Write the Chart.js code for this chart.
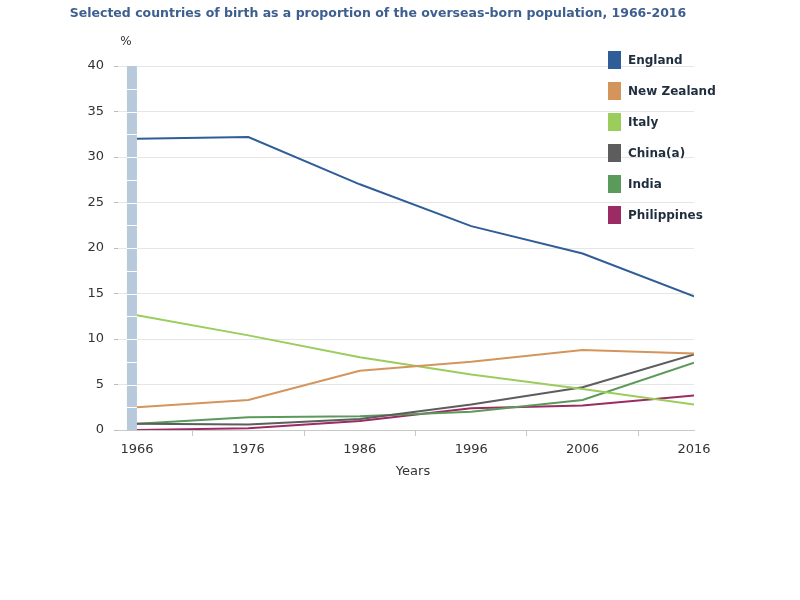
<!DOCTYPE html>
<html>
<head>
<meta charset="utf-8">
<script src="https://cdn.jsdelivr.net/npm/chart.js@4.4.1/dist/chart.umd.min.js"></script>
<style>
html,body{margin:0;padding:0;background:#fff;}
#wrap{width:800px;height:600px;}
</style>
</head>
<body>
<div id="wrap"><canvas id="c" width="800" height="600"></canvas></div>
<script>
const years = [1966, 1976, 1986, 1996, 2006, 2016];
const england     = [32.0, 32.2, 27.0, 22.4, 19.4, 14.7];
const newZealand  = [2.5, 3.3, 6.5, 7.5, 8.8, 8.4];
const italy       = [12.6, 10.4, 8.0, 6.1, 4.5, 2.8];
const china       = [0.7, 0.6, 1.2, 2.8, 4.7, 8.3];
const india       = [0.7, 1.4, 1.5, 2.0, 3.3, 7.4];
const philippines = [0.0, 0.2, 1.0, 2.4, 2.7, 3.8];
const seriesNames = ["England", "New Zealand", "Italy", "China(a)", "India", "Philippines"];
const seriesColors = ["#2f5d98", "#d4955c", "#9acd5b", "#5d5d5d", "#5a9a5a", "#9b2b62"];
const yTicks = [0, 5, 10, 15, 20, 25, 30, 35, 40];
const titleText = "Selected countries of birth as a proportion of the overseas-born population, 1966-2016";

const allSeries = [england, newZealand, italy, china, india, philippines];
const datasets = allSeries.map((vals, i) => ({
  label: seriesNames[i],
  data: years.map((y, j) => ({x: y, y: vals[j]})),
  borderColor: seriesColors[i],
  backgroundColor: seriesColors[i],
  borderWidth: 2,
  pointRadius: 0,
  tension: 0,
  fill: false
}));

const decor = {
  id: 'decor',
  beforeDatasetsDraw(chart) {
    const ctx = chart.ctx, xs = chart.scales.x, ys = chart.scales.y;
    const x0 = xs.getPixelForValue(years[0]);
    const top = ys.getPixelForValue(40), bot = ys.getPixelForValue(0);
    ctx.save();
    ctx.fillStyle = '#b9c9dc';
    ctx.fillRect(x0 - 10, top, 10, bot - top);
    ctx.strokeStyle = '#ffffff';
    ctx.lineWidth = 1;
    for (let v = 2.5; v < 40; v += 2.5) {
      const py = Math.round(ys.getPixelForValue(v)) + 0.5;
      ctx.beginPath(); ctx.moveTo(x0 - 10, py); ctx.lineTo(x0, py); ctx.stroke();
    }
    ctx.restore();
  },
  afterDraw(chart) {
    const ctx = chart.ctx;
    ctx.save();
    ctx.textBaseline = 'middle';
    ctx.font = 'bold 12.5px "DejaVu Sans"';
    ctx.fillStyle = '#3d5f8f';
    ctx.textAlign = 'center';
    ctx.fillText(titleText, 378, 14);
    ctx.font = '12px "DejaVu Sans"';
    ctx.fillStyle = '#333';
    ctx.fillText('%', 126, 42);
    ctx.font = '13px "DejaVu Sans"';
    ctx.fillText('Years', 413, 472);
    ctx.textAlign = 'left';
    ctx.font = 'bold 12px "DejaVu Sans"';
    chart.data.datasets.forEach((ds, i) => {
      const cy = 60 + i * 31;
      ctx.fillStyle = ds.borderColor;
      ctx.fillRect(608, cy - 9, 13, 18);
      ctx.fillStyle = '#1f2d3d';
      ctx.fillText(ds.label, 628, cy + 1);
    });
    ctx.restore();
  }
};

new Chart(document.getElementById('c'), {
  type: 'line',
  data: { datasets },
  options: {
    responsive: false,
    animation: false,
    layout: { padding: { top: 66, right: 106, left: 0, bottom: 0 } },
    plugins: { legend: { display: false }, title: { display: false }, tooltip: { enabled: false } },
    scales: {
      x: {
        type: 'linear',
        min: 1964.3,
        max: 2016,
        afterBuildTicks(scale) {
          const t = [];
          for (let i = 0; i < years.length; i++) {
            t.push({value: years[i]});
            if (i < years.length - 1) t.push({value: years[i] + 5});
          }
          scale.ticks = t;
        },
        afterFit(scale) { scale.height = 170; },
        ticks: {
          autoSkip: false, maxRotation: 0, padding: 6,
          color: '#333', font: { family: 'DejaVu Sans', size: 13 },
          callback: (v) => years.includes(v) ? String(v) : ''
        },
        grid: {
          drawOnChartArea: false, drawTicks: true, tickLength: 6,
          color: (c) => (c.tick && years.includes(c.tick.value)) ? 'rgba(0,0,0,0)' : '#c8c8c8'
        },
        border: { display: true, color: '#c8c8c8', width: 1 }
      },
      y: {
        min: 0, max: 40,
        afterBuildTicks(scale) { scale.ticks = yTicks.map(v => ({value: v})); },
        afterFit(scale) { scale.width = 118; },
        ticks: { padding: 10, color: '#333', font: { family: 'DejaVu Sans', size: 13 } },
        grid: { color: '#e6e6e6', tickColor: '#bbbbbb', tickLength: 4 },
        border: { display: false }
      }
    }
  },
  plugins: [decor]
});
</script>
</body>
</html>
